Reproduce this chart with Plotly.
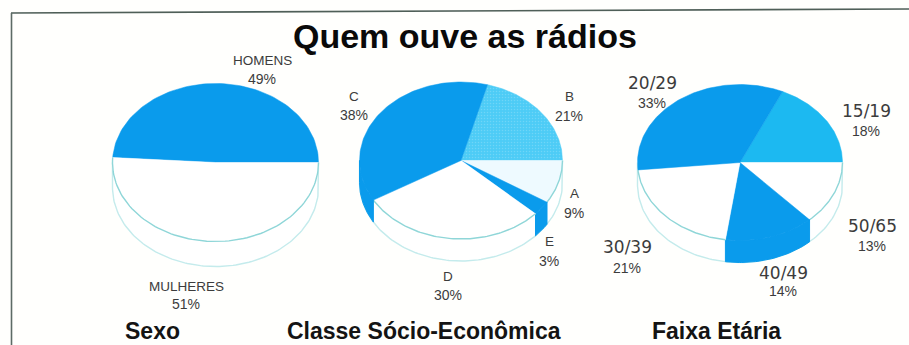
import numpy as np
import plotly.graph_objects as go

# Shares in percent, listed clockwise from the slice that ends on the right-hand horizontal
sexo_names = ["HOMENS", "MULHERES"]
sexo_values = [49, 51]

classe_names = ["B", "A", "E", "D", "C"]
classe_values = [21, 9, 3, 30, 38]

idade_names = ["15/19", "50/65", "40/49", "30/39", "20/29"]
idade_values = [18, 13, 14, 21, 33]

titulo = "Quem ouve as rádios"
subtitulos = ["Sexo", "Classe Sócio-Econômica", "Faixa Etária"]

BLUE = "#0a9bec"
SKY = "#4fcdf6"
CYAN = "#1cb9f1"
PALE = "#eefaff"
WHITE = "#ffffff"
RIM = "#8fd6d8"
RIM_LIGHT = "#c4ebec"

sexo_colors = [BLUE, WHITE]
classe_colors = [SKY, PALE, BLUE, WHITE, BLUE]
idade_colors = [CYAN, WHITE, BLUE, WHITE, BLUE]

# Label anchors, one (x, name y, value y) per slice
sexo_pos = [(262, 60, 79), (186, 286, 304)]
classe_pos = [(569, 96, 116), (574, 193, 213), (549, 241, 261), (448, 276, 295), (354, 96, 115)]
idade_pos = [(866, 111, 131), (872, 226, 246), (783, 273, 291), (627, 247, 268), (652, 83, 103)]


def ellipse(cx, cy, rx, ry, start, end, n=90):
    """Points along an ellipse; angles are in degrees clockwise from the top."""
    t = np.radians(np.linspace(start, end, n))
    return cx + rx * np.sin(t), cy - ry * np.cos(t)


fig = go.Figure()


def add_pie(values, colors, cx, cy, rx, ry, depth):
    angles = np.cumsum(np.array(values, dtype=float)) * 360 / sum(values)
    starts = 90 - angles[0] + np.concatenate(([0], angles[:-1]))
    ends = 90 - angles[0] + angles

    # Outer lower rim of the disc with its two short vertical ends
    x, y = ellipse(cx, cy + depth, rx, ry, 90, 270, 120)
    fig.add_trace(go.Scatter(
        x=np.concatenate(([cx + rx], x, [cx - rx])),
        y=np.concatenate(([cy], y, [cy])),
        mode="lines", line=dict(color=RIM_LIGHT, width=1.4),
        fill="toself", fillcolor=WHITE, hoverinfo="skip",
    ))

    for a, b, color in zip(starts, ends, colors):
        # Coloured slices also show their side wall along the visible lower half;
        # a wall only a few degrees wide at the disc's edge would not be visible
        for turn in (0, 360):
            lo, hi = max(a, 90 + turn), min(b, 270 + turn)
            if hi - lo > 10 and color != WHITE and color != PALE:
                x1, y1 = ellipse(cx, cy, rx, ry, lo, hi, 40)
                x2, y2 = ellipse(cx, cy + depth, rx, ry, hi, lo, 40)
                fig.add_trace(go.Scatter(
                    x=np.concatenate((x1, x2, x1[:1])), y=np.concatenate((y1, y2, y1[:1])),
                    mode="lines", line=dict(color=color, width=1), fill="toself",
                    fillcolor=color, hoverinfo="skip",
                ))
        x, y = ellipse(cx, cy, rx, ry, a, b)
        # The B slice is printed as a fine screen rather than a flat tint
        pattern = dict(shape=".", size=3, solidity=0.2, bgcolor="#4dccf6",
                       fgcolor="#6fd6f7", fillmode="replace") if color == SKY else None
        fig.add_trace(go.Scatter(
            x=np.concatenate(([cx], x, [cx])), y=np.concatenate(([cy], y, [cy])),
            mode="lines", line=dict(color=color, width=0.5), fill="toself",
            fillcolor=color, fillpattern=pattern, hoverinfo="skip",
        ))
        # Upper rim line on the pale slices
        if color in (WHITE, PALE):
            x, y = ellipse(cx, cy, rx, ry, a, b)
            fig.add_trace(go.Scatter(
                x=x, y=y, mode="lines", line=dict(color=RIM, width=1.4),
                hoverinfo="skip",
            ))


add_pie(sexo_values, sexo_colors, 215.5, 162.5, 103, 79, 25)
add_pie(classe_values, classe_colors, 461, 160.5, 101.5, 78.5, 22)
add_pie(idade_values, idade_colors, 740, 162.5, 102.5, 78, 22)

annotations = []


def add_text(text, x, y, size, family="Liberation Sans", color="#3c3c3c", bold=False):
    annotations.append(dict(
        text=f"<b>{text}</b>" if bold else text, x=x, y=y, xref="x", yref="y",
        showarrow=False, xanchor="center", yanchor="middle",
        font=dict(family=family, size=size, color=color),
    ))


for names, values, positions, family, size in (
    (sexo_names, sexo_values, sexo_pos, "Liberation Sans", 13.5),
    (classe_names, classe_values, classe_pos, "Liberation Sans", 13.5),
    (idade_names, idade_values, idade_pos, "DejaVu Sans", 17),
):
    for name, value, (x, y_name, y_value) in zip(names, values, positions):
        add_text(name, x, y_name, size, family)
        add_text(f"{value}%", x, y_value, 14)

add_text(titulo, 465, 35.5, 34, color="#0a0a0a", bold=True)
for text, x in zip(subtitulos, (152, 424, 716)):
    add_text(text, x, 331, 23, color="#141414", bold=True)

fig.update_layout(
    width=909, height=345, margin=dict(l=0, r=0, t=0, b=0),
    paper_bgcolor="#fffffd", plot_bgcolor="#fffffd", showlegend=False,
    xaxis=dict(range=[0, 909], visible=False, fixedrange=True),
    yaxis=dict(range=[345, 0], visible=False, fixedrange=True),
    annotations=annotations,
    shapes=[
        dict(type="line", x0=11, y0=13, x1=909, y1=9, line=dict(color="#4f5f58", width=1.6)),
        dict(type="line", x0=11.5, y0=13, x1=11.5, y1=345, line=dict(color="#5d6b66", width=1.6)),
    ],
)

fig.write_html("out.html", config=dict(displayModeBar=False))
